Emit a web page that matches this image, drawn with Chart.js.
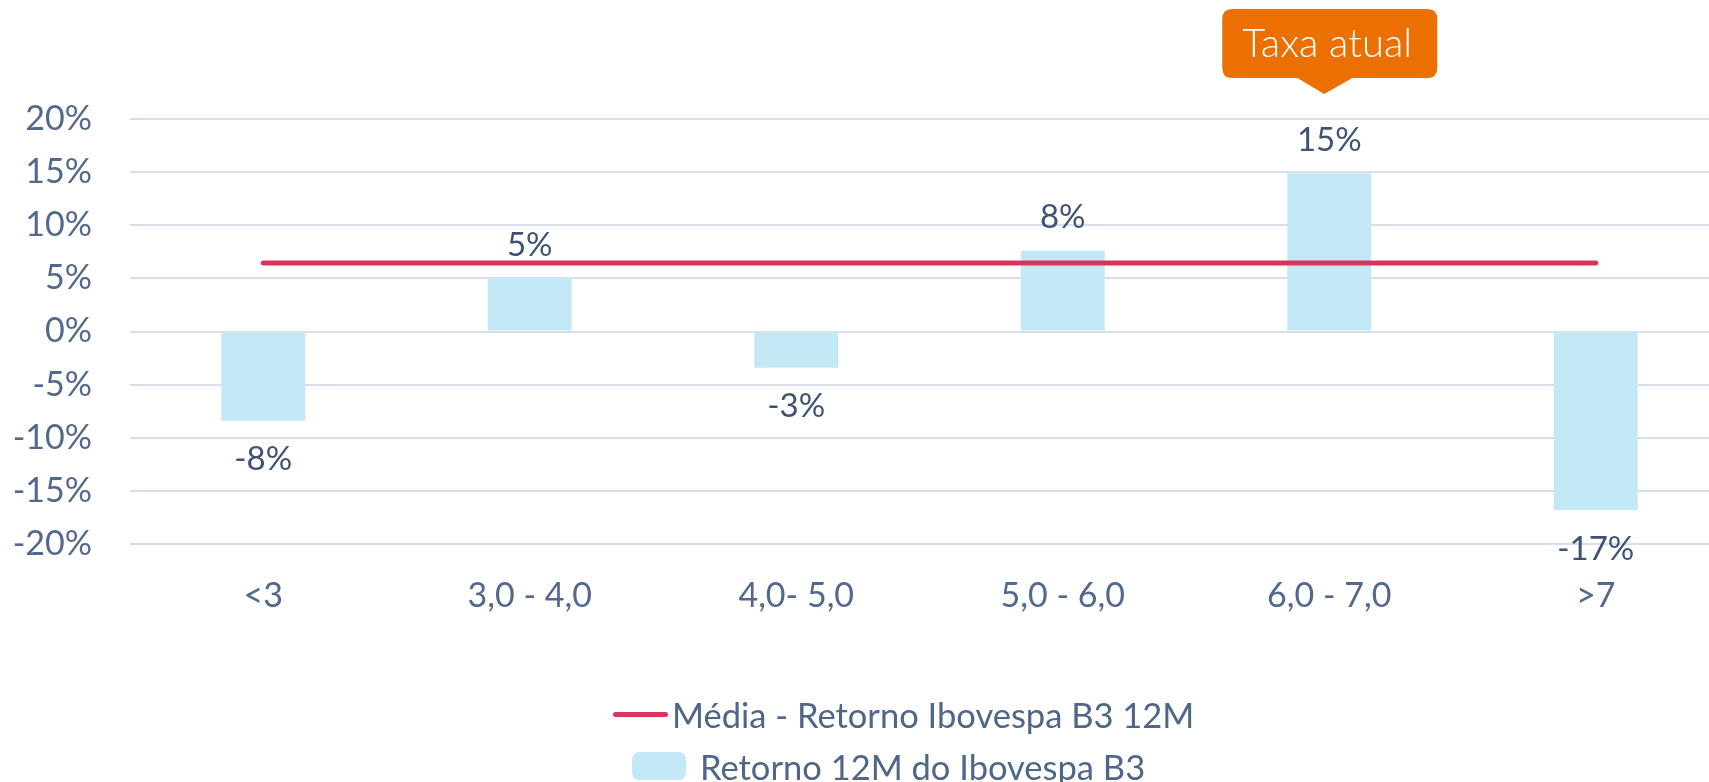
<!DOCTYPE html>
<html lang="pt-BR">
<head>
<meta charset="utf-8">
<title>Retorno Ibovespa por faixa de taxa</title>
<script src="https://cdn.jsdelivr.net/npm/chart.js@4.4.1/dist/chart.umd.min.js"></script>
<style>
  html, body { margin: 0; padding: 0; background: #fff; overflow: hidden; }
  #wrap { position: relative; width: 1729px; height: 782px; }
  #legend { position: absolute; left: 613px; top: 688px; font-family: Lato, sans-serif; color: #4f6689; }
  .row { display: flex; align-items: center; height: 52px; white-space: nowrap; }
  .row .txt { font-size: 34.5px; }
  .sw-line { width: 55px; height: 5px; border-radius: 3px; margin-right: 4px; }
  .sw-box { width: 54px; height: 28px; border-radius: 7px; margin-left: 19px; margin-right: 14px; }
</style>
</head>
<body>
<div id="wrap">
  <canvas id="retornoChart"></canvas>
  <div id="legend"></div>
</div>
<script>
// faixas de taxa (eixo x)
const categories = ['<3', '3,0 - 4,0', '4,0- 5,0', '5,0 - 6,0', '6,0 - 7,0', '>7'];
// retorno 12M do Ibovespa em cada faixa (%)
const retornos = [-8.4, 5.0, -3.4, 7.6, 14.9, -16.8];
// média do retorno (%)
const media = [6.45, 6.45, 6.45, 6.45, 6.45, 6.45];
// eixo y
const yTicks = [-20, -15, -10, -5, 0, 5, 10, 15, 20];

const serieBarra = 'Retorno 12M do Ibovespa B3';
const serieMedia = 'Média - Retorno Ibovespa B3 12M';
const calloutText = 'Taxa atual';
const calloutIndex = 4;

const AZUL = '#c3e9f6';
const VERMELHO = '#d9345b';
const LARANJA = '#ec7000';

Chart.defaults.font.family = 'Lato, sans-serif';

// rótulos de valor acima/abaixo das barras
const valueLabels = {
    id: 'valueLabels',
    afterDatasetsDraw(chart) {
        const ctx = chart.ctx;
        const meta = chart.getDatasetMeta(1);
        ctx.save();
        ctx.font = '33px Lato, sans-serif';
        ctx.fillStyle = '#3e5373';
        ctx.textAlign = 'center';
        ctx.textBaseline = 'middle';
        meta.data.forEach((bar, i) => {
            const v = retornos[i];
            const y = v >= 0 ? bar.y - 33 : bar.y + 39;
            ctx.fillText(Math.round(v) + '%', bar.x, y);
        });
        ctx.restore();
    }
};

// balão "Taxa atual" sobre a faixa atual
const callout = {
    id: 'callout',
    afterDraw(chart) {
        const ctx = chart.ctx;
        const bar = chart.getDatasetMeta(1).data[calloutIndex];
        const cx = bar.x;
        const top = 9, bottom = 78, left = cx - 107, right = cx + 108, r = 10;
        ctx.save();
        ctx.fillStyle = LARANJA;
        ctx.beginPath();
        ctx.moveTo(left + r, top);
        ctx.lineTo(right - r, top);
        ctx.quadraticCurveTo(right, top, right, top + r);
        ctx.lineTo(right, bottom - r);
        ctx.quadraticCurveTo(right, bottom, right - r, bottom);
        ctx.lineTo(cx + 23, bottom);
        ctx.lineTo(cx - 5, 94);
        ctx.lineTo(cx - 32, bottom);
        ctx.lineTo(left + r, bottom);
        ctx.quadraticCurveTo(left, bottom, left, bottom - r);
        ctx.lineTo(left, top + r);
        ctx.quadraticCurveTo(left, top, left + r, top);
        ctx.closePath();
        ctx.fill();
        ctx.fillStyle = '#ffffff';
        ctx.font = '300 40px Lato, sans-serif';
        ctx.textAlign = 'center';
        ctx.textBaseline = 'middle';
        ctx.fillText(calloutText, cx - 2, 44);
        ctx.restore();
    }
};

const ctx = document.getElementById('retornoChart').getContext('2d');

const chart = new Chart(ctx, {
    type: 'bar',
    data: {
        labels: categories,
        datasets: [{
            type: 'line',
            label: serieMedia,
            data: media,
            borderColor: VERMELHO,
            borderWidth: 5,
            borderCapStyle: 'round',
            pointRadius: 0,
            fill: false,
            order: 0
        }, {
            type: 'bar',
            label: serieBarra,
            data: retornos,
            backgroundColor: AZUL,
            borderWidth: 0,
            categoryPercentage: 1,
            barPercentage: 0.315,
            order: 1
        }]
    },
    options: {
        responsive: true,
        maintainAspectRatio: false,
        animation: false,
        layout: { padding: { top: 119, right: 0, bottom: 0, left: 0 } },
        plugins: {
            legend: { display: false },
            tooltip: { enabled: false }
        },
        scales: {
            x: {
                grid: { display: false, drawTicks: false },
                border: { display: false },
                ticks: { color: '#52698d', font: { size: 34 }, padding: 32, maxRotation: 0 },
                afterFit(scale) { scale.height = 238; }
            },
            y: {
                min: yTicks[0],
                max: yTicks[yTicks.length - 1],
                afterBuildTicks(scale) { scale.ticks = yTicks.map(v => ({ value: v })); },
                grid: { color: '#d9dee9', lineWidth: 2, drawTicks: false },
                border: { display: false },
                ticks: {
                    color: '#52698d',
                    font: { size: 34 },
                    padding: 38,
                    callback: value => value + '%'
                },
                afterFit(scale) { scale.width = 130; }
            }
        }
    },
    plugins: [valueLabels, callout]
});

// legenda em HTML, na ordem do original
const legend = document.getElementById('legend');
legend.innerHTML =
    '<div class="row"><span class="sw-line" style="background:' + VERMELHO + '"></span>' +
    '<span class="txt">' + serieMedia + '</span></div>' +
    '<div class="row"><span class="sw-box" style="background:' + AZUL + '"></span>' +
    '<span class="txt">' + serieBarra + '</span></div>';
</script>
</body>
</html>
